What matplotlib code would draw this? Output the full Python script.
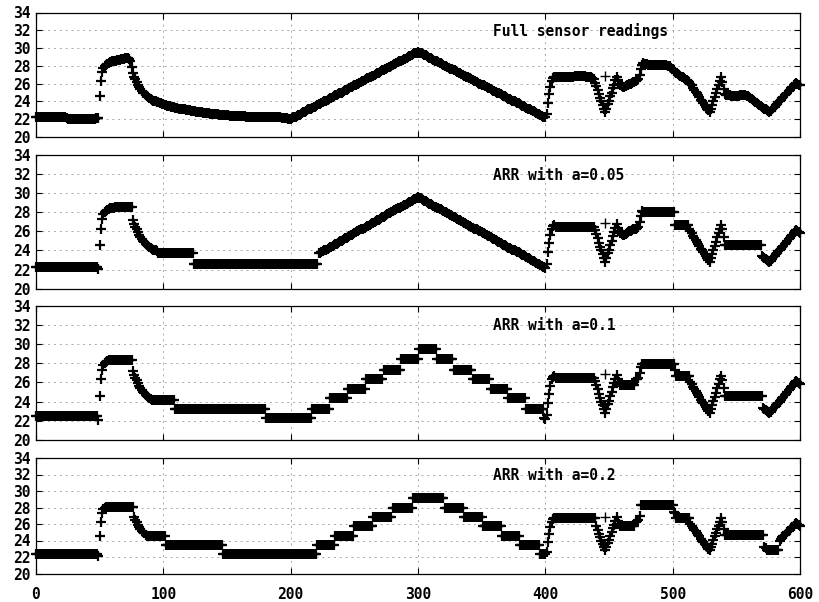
import numpy as np
import matplotlib
matplotlib.use("Agg")
import matplotlib.pyplot as plt

# ---------------- data ----------------
time_index = list(range(0, 601))

full_readings = [
    22.3, 22.3, 22.3, 22.2, 22.2, 22.2, 22.2, 22.2, 22.2, 22.2,   # 0
    22.2, 22.2, 22.2, 22.2, 22.2, 22.2, 22.2, 22.2, 22.2, 22.2,   # 10
    22.2, 22.2, 22.2, 22.2, 22.1, 22.0, 22.0, 22.0, 22.0, 22.0,   # 20
    22.0, 22.0, 22.0, 22.0, 22.0, 22.0, 22.0, 22.0, 22.0, 22.0,   # 30
    22.0, 22.0, 22.0, 22.0, 22.0, 22.0, 22.0, 22.1, 22.1, 22.1,   # 40
    24.6, 26.3, 27.3, 27.8, 28.0, 28.1, 28.2, 28.3, 28.4, 28.4,   # 50
    28.5, 28.5, 28.6, 28.6, 28.7, 28.7, 28.7, 28.8, 28.8, 28.8,   # 60
    28.9, 28.9, 28.9, 28.8, 28.6, 27.9, 27.2, 26.8, 26.5, 26.2,   # 70
    25.9, 25.6, 25.4, 25.2, 25.0, 24.9, 24.7, 24.6, 24.5, 24.4,   # 80
    24.3, 24.2, 24.1, 24.1, 24.0, 23.9, 23.9, 23.8, 23.8, 23.7,   # 90
    23.7, 23.6, 23.6, 23.5, 23.5, 23.5, 23.4, 23.4, 23.4, 23.3,   # 100
    23.3, 23.3, 23.2, 23.2, 23.2, 23.1, 23.1, 23.1, 23.0, 23.0,   # 110
    23.0, 23.0, 22.9, 22.9, 22.9, 22.9, 22.8, 22.8, 22.8, 22.8,   # 120
    22.8, 22.7, 22.7, 22.7, 22.7, 22.7, 22.7, 22.6, 22.6, 22.6,   # 130
    22.6, 22.6, 22.6, 22.6, 22.5, 22.5, 22.5, 22.5, 22.5, 22.5,   # 140
    22.5, 22.5, 22.4, 22.4, 22.4, 22.4, 22.4, 22.4, 22.4, 22.4,   # 150
    22.4, 22.4, 22.4, 22.4, 22.4, 22.3, 22.3, 22.3, 22.3, 22.3,   # 160
    22.3, 22.3, 22.3, 22.3, 22.3, 22.3, 22.3, 22.3, 22.3, 22.3,   # 170
    22.3, 22.3, 22.2, 22.2, 22.2, 22.2, 22.2, 22.2, 22.2, 22.2,   # 180
    22.2, 22.2, 22.2, 22.1, 22.1, 22.1, 22.1, 22.1, 22.0, 22.0,   # 190
    22.0, 22.1, 22.2, 22.2, 22.3, 22.4, 22.5, 22.5, 22.6, 22.7,   # 200
    22.8, 22.8, 22.9, 23.0, 23.1, 23.1, 23.2, 23.3, 23.4, 23.4,   # 210
    23.5, 23.6, 23.7, 23.7, 23.8, 23.9, 24.0, 24.1, 24.1, 24.2,   # 220
    24.3, 24.4, 24.4, 24.5, 24.6, 24.7, 24.7, 24.8, 24.9, 25.0,   # 230
    25.0, 25.1, 25.2, 25.3, 25.3, 25.4, 25.5, 25.6, 25.6, 25.7,   # 240
    25.8, 25.9, 26.0, 26.0, 26.1, 26.2, 26.3, 26.3, 26.4, 26.5,   # 250
    26.6, 26.6, 26.7, 26.8, 26.9, 26.9, 27.0, 27.1, 27.2, 27.2,   # 260
    27.3, 27.4, 27.5, 27.5, 27.6, 27.7, 27.8, 27.9, 27.9, 28.0,   # 270
    28.1, 28.2, 28.2, 28.3, 28.4, 28.5, 28.5, 28.6, 28.7, 28.8,   # 280
    28.8, 28.9, 29.0, 29.1, 29.1, 29.2, 29.3, 29.4, 29.4, 29.5,   # 290
    29.6, 29.5, 29.5, 29.4, 29.3, 29.2, 29.2, 29.1, 29.0, 28.9,   # 300
    28.9, 28.8, 28.7, 28.6, 28.6, 28.5, 28.4, 28.3, 28.3, 28.2,   # 310
    28.1, 28.0, 28.0, 27.9, 27.8, 27.7, 27.7, 27.6, 27.5, 27.5,   # 320
    27.4, 27.3, 27.2, 27.2, 27.1, 27.0, 26.9, 26.9, 26.8, 26.7,   # 330
    26.6, 26.6, 26.5, 26.4, 26.3, 26.3, 26.2, 26.1, 26.0, 26.0,   # 340
    25.9, 25.8, 25.8, 25.7, 25.6, 25.5, 25.5, 25.4, 25.3, 25.2,   # 350
    25.2, 25.1, 25.0, 24.9, 24.9, 24.8, 24.7, 24.6, 24.6, 24.5,   # 360
    24.4, 24.3, 24.3, 24.2, 24.1, 24.0, 24.0, 23.9, 23.8, 23.8,   # 370
    23.7, 23.6, 23.5, 23.5, 23.4, 23.3, 23.2, 23.2, 23.1, 23.0,   # 380
    22.9, 22.9, 22.8, 22.7, 22.6, 22.6, 22.5, 22.4, 22.3, 22.3,   # 390
    22.2, 22.6, 23.8, 24.8, 25.6, 26.3, 26.6, 26.7, 26.7, 26.7,   # 400
    26.7, 26.7, 26.7, 26.7, 26.7, 26.8, 26.8, 26.8, 26.8, 26.8,   # 410
    26.8, 26.8, 26.8, 26.9, 26.9, 26.9, 26.9, 26.9, 26.9, 26.9,   # 420
    26.9, 26.9, 26.8, 26.8, 26.8, 26.8, 26.7, 26.6, 26.5, 26.1,   # 430
    25.7, 25.3, 24.8, 24.4, 24.0, 23.6, 23.2, 22.8, 23.2, 23.7,   # 440
    24.1, 24.6, 25.0, 25.5, 25.9, 26.4, 26.8, 26.4, 26.0, 25.8,   # 450
    25.7, 25.6, 25.6, 25.7, 25.8, 25.9, 26.0, 26.0, 26.1, 26.2,   # 460
    26.2, 26.3, 26.4, 26.5, 27.0, 27.6, 28.1, 28.3, 28.2, 28.2,   # 470
    28.2, 28.1, 28.1, 28.1, 28.1, 28.1, 28.1, 28.1, 28.1, 28.1,   # 480
    28.1, 28.1, 28.1, 28.1, 28.1, 28.1, 28.0, 28.0, 28.0, 27.8,   # 490
    27.6, 27.4, 27.3, 27.2, 27.1, 27.0, 26.9, 26.8, 26.7, 26.6,   # 500
    26.5, 26.4, 26.3, 26.2, 26.0, 25.8, 25.5, 25.3, 25.1, 24.9,   # 510
    24.7, 24.5, 24.2, 24.0, 23.8, 23.6, 23.4, 23.2, 23.0, 22.8,   # 520
    23.2, 23.6, 24.1, 24.5, 24.9, 25.4, 25.8, 26.3, 26.7, 26.2,   # 530
    25.4, 24.8, 24.7, 24.7, 24.7, 24.7, 24.6, 24.6, 24.6, 24.6,   # 540
    24.6, 24.6, 24.6, 24.7, 24.7, 24.7, 24.7, 24.7, 24.6, 24.6,   # 550
    24.5, 24.4, 24.3, 24.2, 24.0, 23.9, 23.8, 23.7, 23.6, 23.5,   # 560
    23.4, 23.3, 23.2, 23.1, 23.0, 22.9, 22.8, 22.9, 23.1, 23.3,   # 570
    23.4, 23.6, 23.7, 23.9, 24.0, 24.2, 24.4, 24.5, 24.7, 24.8,   # 580
    25.0, 25.2, 25.3, 25.5, 25.6, 25.8, 26.0, 26.1, 26.0, 25.9,   # 590
    25.8,                                                         # 600
]

# isolated extra reading next to the V dip
extra_x = [447]
extra_y = [26.9]

# ARR holds: (first index, last index, held value)
holds_a005 = [(0, 48, 22.3), (62, 75, 28.6), (96, 123, 23.7), (124, 221, 22.6),
              (408, 438, 26.5), (477, 501, 28.05), (502, 512, 26.7), (541, 569, 24.6)]

holds_a01 = [(0, 48, 22.45), (57, 75, 28.3), (91, 108, 24.15), (109, 180, 23.2),
             (181, 216, 22.3), (217, 230, 23.25), (231, 244, 24.35), (245, 258, 25.3),
             (259, 272, 26.4), (273, 286, 27.3), (287, 300, 28.4), (301, 314, 29.5),
             (315, 327, 28.4), (328, 342, 27.3), (343, 356, 26.4), (357, 370, 25.3),
             (371, 384, 24.35), (385, 398, 23.25), (408, 438, 26.5), (459, 470, 25.7),
             (476, 501, 27.95), (503, 513, 26.65), (541, 570, 24.55)]

holds_a02 = [(0, 48, 22.35), (55, 76, 28.1), (87, 101, 24.6), (102, 146, 23.5),
             (147, 220, 22.35), (221, 234, 23.45), (235, 249, 24.6), (250, 264, 25.75),
             (265, 279, 26.85), (280, 295, 28.0), (296, 320, 29.1), (321, 335, 28.0),
             (336, 350, 26.85), (351, 365, 25.75), (366, 379, 24.6), (380, 395, 23.45),
             (396, 400, 22.35), (407, 439, 26.7), (459, 470, 25.8), (475, 500, 28.3),
             (503, 513, 26.7), (541, 571, 24.65), (574, 583, 22.85)]

panel_titles = ["Full sensor readings", "ARR with a=0.05", "ARR with a=0.1", "ARR with a=0.2"]
y_ticks = [20, 22, 24, 26, 28, 30, 32, 34]
x_ticks = [0, 100, 200, 300, 400, 500, 600]


def apply_holds(base, holds):
    s = np.array(base, dtype=float)
    for a, b, v in holds:
        s[a:b + 1] = v
    return s


series = [np.array(full_readings, dtype=float),
          apply_holds(full_readings, holds_a005),
          apply_holds(full_readings, holds_a01),
          apply_holds(full_readings, holds_a02)]

# ---------------- figure ----------------
W, H = 820, 602
fig = plt.figure(figsize=(W / 100, H / 100), dpi=100)

# panel pixel boxes (top, bottom)
boxes = [(12.5, 137.0), (155.0, 288.7), (305.5, 440.0), (458.0, 573.5)]
left_px, right_px = 36.0, 800.0

mono = "DejaVu Sans Mono"
x = np.array(time_index)

for i, (top, bot) in enumerate(boxes):
    ax = fig.add_axes([left_px / W, 1 - bot / H, (right_px - left_px) / W, (bot - top) / H])
    ax.set_xlim(0, 600)
    ax.set_ylim(20, 34)
    ax.set_xticks(x_ticks)
    ax.set_yticks(y_ticks)
    ax.grid(True, color="#a8a8a8", linestyle=(0, (2, 4)), linewidth=0.7)
    ax.set_axisbelow(True)
    ax.tick_params(direction="in", length=4.3, width=0.8, top=True, right=True,
                   colors="black", labelsize=10.5)
    ax.tick_params(axis="y", pad=4)
    ax.tick_params(axis="x", pad=10)
    for sp in ax.spines.values():
        sp.set_linewidth(0.9)
        sp.set_color("black")
    if i < 3:
        ax.set_xticklabels([])
    for lab in ax.get_xticklabels() + ax.get_yticklabels():
        lab.set_family(mono)
        lab.set_fontweight("bold")

    ax.plot(x, series[i], linestyle="none", marker="+", markersize=7.5,
            markeredgewidth=1.6, color="black", clip_on=False)
    ax.plot(extra_x, extra_y, linestyle="none", marker="+", markersize=7,
            markeredgewidth=1.0, color="black", clip_on=False)

    ax.text(359, 31.9, panel_titles[i], ha="left", va="center", fontsize=10.5,
            fontweight="bold", family=mono, color="black")

fig.savefig("out.png", dpi=100)
